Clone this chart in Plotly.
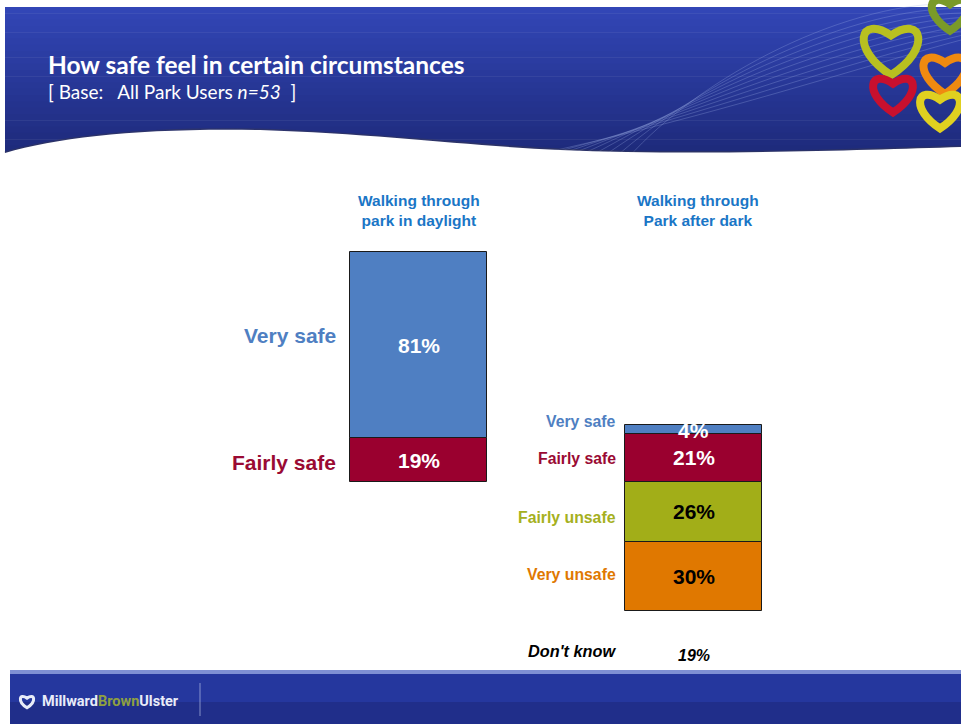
import plotly.graph_objects as go

# ---- data -------------------------------------------------------------
columns = ["Walking through<br>park in daylight", "Walking through<br>Park after dark"]
levels = ["Very safe", "Fairly safe", "Fairly unsafe", "Very unsafe"]
daylight = [81, 19, 0, 0]
after_dark = [4, 21, 26, 30]
dont_know = [0, 19]
values = [daylight, after_dark]

bar_colors = {"Very safe": "#4f7fc2", "Fairly safe": "#9a002f",
              "Fairly unsafe": "#a2ae18", "Very unsafe": "#e07800"}
label_colors = {"Very safe": "#4f7fc2", "Fairly safe": "#9a0a33",
                "Fairly unsafe": "#a5b020", "Very unsafe": "#e07800"}
value_text_colors = {"Very safe": "white", "Fairly safe": "white",
                     "Fairly unsafe": "black", "Very unsafe": "black"}

# ---- page geometry ----------------------------------------------------
W, H = 961, 724
X0_PX, X_STEP_PX = 418.5, 275.0      # bar centres
Y0_PX, Y_SCALE = 482.0, 2.3           # baseline pixel, pixels per percent
BAR_W = 137 / X_STEP_PX
FONT = "Liberation Sans, Arial"


def px(x):
    return x / W


def py(y):
    return 1 - y / H


def curve(pts):
    """pts: start point followed by triples of cubic control points (pixels)."""
    s = f"M {px(pts[0][0]):.5f},{py(pts[0][1]):.5f}"
    rest = pts[1:]
    for i in range(0, len(rest), 3):
        c = rest[i:i + 3]
        s += " C " + " ".join(f"{px(a):.5f},{py(b):.5f}" for a, b in c)
    return s


fig = go.Figure()

# ---- stacked segments: safe stacks up from 0, unsafe stacks down --------
for ci, col_vals in enumerate(values):
    v = dict(zip(levels, col_vals))
    segs = [
        ("Fairly safe", 0, v["Fairly safe"]),
        ("Very safe", v["Fairly safe"], v["Very safe"]),
        ("Fairly unsafe", 0, -v["Fairly unsafe"]),
        ("Very unsafe", -v["Fairly unsafe"], -v["Very unsafe"]),
    ]
    for lvl, base, h in segs:
        if h == 0:
            continue
        fig.add_trace(go.Bar(
            x=[ci], y=[h], base=[base], width=BAR_W,
            marker=dict(color=bar_colors[lvl], line=dict(color="#1a1a1a", width=1)),
            showlegend=False, hoverinfo="skip",
        ))

annotations = []

# values inside segments and category labels at the left of each bar
label_cfg = [
    dict(size=21, gap=12, shifts={"Very safe": 10, "Fairly safe": -2}),
    dict(size=15.8, gap=7, shifts={"Very safe": 8, "Fairly safe": -1,
                                   "Fairly unsafe": -6, "Very unsafe": 2}),
]
for ci, col_vals in enumerate(values):
    v = dict(zip(levels, col_vals))
    centres = {
        "Fairly safe": v["Fairly safe"] / 2,
        "Very safe": v["Fairly safe"] + v["Very safe"] / 2,
        "Fairly unsafe": -v["Fairly unsafe"] / 2,
        "Very unsafe": -v["Fairly unsafe"] - v["Very unsafe"] / 2,
    }
    cfg = label_cfg[ci]
    for lvl in levels:
        if v[lvl] == 0:
            continue
        yshift_val = -1 if v[lvl] < 8 else 0
        annotations.append(dict(
            x=ci, y=centres[lvl], xref="x", yref="y", text=f"<b>{v[lvl]}%</b>",
            showarrow=False, yshift=yshift_val, yanchor="middle",
            font=dict(family=FONT, size=21, color=value_text_colors[lvl]),
        ))
        annotations.append(dict(
            x=ci - BAR_W / 2, y=centres[lvl], xref="x", yref="y", text=f"<b>{lvl}</b>",
            showarrow=False, xanchor="right", yanchor="middle", xshift=-cfg["gap"],
            yshift=cfg["shifts"].get(lvl, 0),
            font=dict(family=FONT, size=cfg["size"], color=label_colors[lvl]),
        ))

# column headings
for ci, name in enumerate(columns):
    annotations.append(dict(
        x=ci, y=py(211), xref="x", yref="paper", text=f"<b>{name}</b>",
        showarrow=False, yanchor="middle", xshift=4 * ci,
        font=dict(family=FONT, size=15.5, color="#1a76c6"),
    ))

# don't know row
annotations.append(dict(
    x=1 - BAR_W / 2, y=py(651), xref="x", yref="paper", text="<b><i>Don't know</i></b>",
    showarrow=False, xanchor="right", yanchor="middle", xshift=-7,
    font=dict(family=FONT, size=16.3, color="black"),
))
annotations.append(dict(
    x=1, y=py(655), xref="x", yref="paper", text=f"<b><i>{dont_know[1]}%</i></b>",
    showarrow=False, yanchor="middle", font=dict(family=FONT, size=16, color="black"),
))

# title block
annotations.append(dict(
    x=px(46), y=py(64), xref="paper", yref="paper", xanchor="left", yanchor="middle",
    text="<b>How safe feel in certain circumstances</b>", showarrow=False,
    font=dict(family="Lato, Open Sans", size=24.5, color="white"),
))
annotations.append(dict(
    x=px(46), y=py(91), xref="paper", yref="paper", xanchor="left", yanchor="middle",
    text="[ Base:\u00a0\u00a0 All Park Users <i>n=53</i>\u00a0 ]", showarrow=False,
    font=dict(family="Lato, Open Sans", size=19, color="white"),
))

# footer brand
annotations.append(dict(
    x=px(40), y=py(701), xref="paper", yref="paper", xanchor="left", yanchor="middle",
    text="<b>Millward<span style='color:#8fa040'>Brown</span>Ulster</b>", showarrow=False,
    font=dict(family="Roboto, Liberation Sans", size=14.5, color="#e8ecf8"),
))

# ---- page decoration ---------------------------------------------------
shapes = []
# header gradient
top, bottom = 7, 158
n = 24
c_top = (50, 70, 182)
c_bot = (30, 42, 122)
for i in range(n):
    t = i / (n - 1)
    c = tuple(int(a + (b - a) * t) for a, b in zip(c_top, c_bot))
    y1 = top + (bottom - top) * i / n
    y2 = top + (bottom - top) * (i + 1) / n + 0.5
    shapes.append(dict(type="rect", xref="paper", yref="paper", layer="below",
                       x0=px(5), x1=px(W), y0=py(y2), y1=py(y1),
                       fillcolor=f"rgb{c}", line=dict(width=0)))

# light sweeping lines across the header
for k in range(9):
    off = k * 9
    shapes.append(dict(type="path", xref="paper", yref="paper", layer="below",
                       path=curve([(520 + off * 1.5, 158), (700, 120 - off * 0.6),
                                   (850, 70 - off), (961, 40 - off * 0.5)]),
                       line=dict(color="rgba(160,180,235,0.28)", width=1)))
for k in range(6):
    off = k * 14
    shapes.append(dict(type="path", xref="paper", yref="paper", layer="below",
                       path=curve([(1040 - off, 158), (1080 - off, 120),
                                   (1120 - off, 70), (1200 - off, 10)]),
                       line=dict(color="rgba(160,180,235,0.25)", width=1)))

# white wave under the header
wave = [(5, 153), (60, 137), (140, 128), (260, 130), (380, 134), (470, 146), (560, 150),
        (700, 156), (860, 150), (961, 147)]
wave_path = curve(wave) + f" L {px(W):.5f},{py(170):.5f} L {px(0):.5f},{py(170):.5f} Z"
shapes.append(dict(type="path", xref="paper", yref="paper", layer="below",
                   path=curve(wave), line=dict(color="rgba(60,60,80,0.45)", width=3)))
shapes.append(dict(type="path", xref="paper", yref="paper", layer="below",
                   path=wave_path, fillcolor="white", line=dict(width=0)))


# heart logo, upper right
def heart(cx, cy, s):
    return curve([(cx, cy + s * 0.85),
                  (cx - s * 1.25, cy + s * 0.05), (cx - s * 0.95, cy - s * 1.0), (cx, cy - s * 0.35),
                  (cx + s * 0.95, cy - s * 1.0), (cx + s * 1.25, cy + s * 0.05), (cx, cy + s * 0.85)]) + " Z"


for cx, cy, s, col in [(950, 12, 22, "#7a9a28"), (891, 47, 33, "#b8c020"),
                       (945, 72, 26, "#f08a10"), (893, 92, 24, "#c8102e"),
                       (940, 108, 24, "#e0d020")]:
    shapes.append(dict(type="path", xref="paper", yref="paper", layer="below",
                       path=heart(cx, cy, s), line=dict(color=col, width=8)))

# footer band
shapes.append(dict(type="rect", xref="paper", yref="paper", layer="below",
                   x0=px(10), x1=px(W), y0=py(H), y1=py(670),
                   fillcolor="#25379e", line=dict(width=0)))
shapes.append(dict(type="rect", xref="paper", yref="paper", layer="below",
                   x0=px(10), x1=px(W), y0=py(H), y1=py(702),
                   fillcolor="#202e8a", line=dict(width=0)))
shapes.append(dict(type="rect", xref="paper", yref="paper", layer="below",
                   x0=px(10), x1=px(W), y0=py(674), y1=py(670),
                   fillcolor="#7f90d4", line=dict(width=0)))
shapes.append(dict(type="line", xref="paper", yref="paper", layer="below",
                   x0=px(200), x1=px(200), y0=py(716), y1=py(683),
                   line=dict(color="rgba(200,210,240,0.6)", width=1)))
# footer brand mark
shapes.append(dict(type="path", xref="paper", yref="paper", layer="below",
                   path=heart(27, 701, 8), line=dict(color="#e8ecf8", width=3)))

fig.update_layout(
    width=W, height=H,
    margin=dict(l=0, r=0, t=0, b=0),
    paper_bgcolor="white", plot_bgcolor="rgba(0,0,0,0)",
    barmode="overlay", bargap=0,
    xaxis=dict(range=[-X0_PX / X_STEP_PX, (W - X0_PX) / X_STEP_PX], domain=[0, 1],
               visible=False, fixedrange=True),
    yaxis=dict(range=[(Y0_PX - H) / Y_SCALE, Y0_PX / Y_SCALE], domain=[0, 1],
               visible=False, fixedrange=True),
    shapes=shapes,
    annotations=annotations,
)

fig.write_html("out.html")
